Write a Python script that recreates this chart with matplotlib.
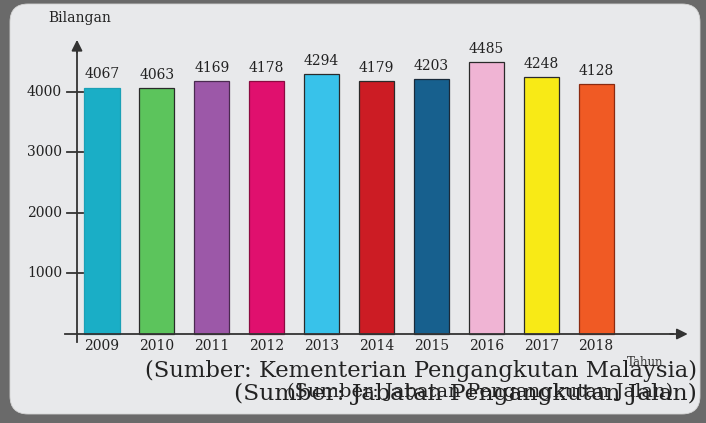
import matplotlib.pyplot as plt
from matplotlib.patches import FancyBboxPatch

# data
years = ['2009', '2010', '2011', '2012', '2013', '2014', '2015', '2016', '2017', '2018']
values = [4067, 4063, 4169, 4178, 4294, 4179, 4203, 4485, 4248, 4128]
colors = ['#1aaec6', '#5cc45c', '#9c58a8', '#e0106e', '#38c2ea',
          '#cc1c24', '#17608e', '#f0b4d4', '#f8ea16', '#f05a24']
edges = ['#1aa0b6', '#2a2a2a', '#4a2a50', '#8a0a40', '#2a2a2a',
         '#2a2a2a', '#1a2a3a', '#2a2a2a', '#2a2a2a', '#8a2a10']
yticks = [1000, 2000, 3000, 4000]

W, H = 706, 423
fig = plt.figure(figsize=(W / 100, H / 100), dpi=100)
fig.patch.set_facecolor('#6a6a6a')
plt.rcParams['font.family'] = 'DejaVu Serif'

# background panel
bg = fig.add_axes([0, 0, 1, 1])
bg.set_xlim(0, W)
bg.set_ylim(H, 0)
bg.axis('off')
panel = FancyBboxPatch((10, 4), 690, 410, boxstyle='round,pad=0,rounding_size=18',
                       facecolor='#e8e9eb', edgecolor='#d4d4d4', lw=0.6)
bg.add_patch(panel)

# chart axes: pixel box mapped onto data
px0, px1, py_top, py_bot = 60, 700, 30, 345
ax = fig.add_axes([px0 / W, 1 - py_bot / H, (px1 - px0) / W, (py_bot - py_top) / H])
ax.patch.set_alpha(0)
step = 54.9
unit = 60.6 / 1000
ax.set_xlim((px0 - 102) / step, (px1 - 102) / step)
ax.set_ylim(-(py_bot - 334) / unit, (334 - py_top) / unit)
ax.axis('off')

xs = list(range(len(years)))
ax.bar(xs, values, width=0.64, color=colors, edgecolor=edges, linewidth=0.9, zorder=2)

for x, v in zip(xs, values):
    ax.text(x, v + 100, str(v), ha='center', va='bottom', fontsize=10, color='#222')
    ax.text(x, -90, years[x], ha='center', va='top', fontsize=10, color='#222')

axc = '#333333'
yax_x = (77 - 102) / step
ax.plot([yax_x, yax_x], [-130, 4700], color=axc, lw=1.3, zorder=3)
ax.annotate('', xy=(yax_x, 4900), xytext=(yax_x, 4600),
            arrowprops=dict(arrowstyle='-|>', color=axc, lw=1.3, mutation_scale=16))
ax.plot([(65 - 102) / step, 10.4], [0, 0], color=axc, lw=1.3, zorder=3)
ax.annotate('', xy=(10.72, 0), xytext=(10.3, 0),
            arrowprops=dict(arrowstyle='-|>', color=axc, lw=1.3, mutation_scale=16))

for t in yticks:
    ax.plot([yax_x - 10 / step, yax_x + 6 / step], [t, t], color=axc, lw=1.3, zorder=3)
    ax.text(yax_x - 15 / step, t, str(t), ha='right', va='center', fontsize=10, color='#222')

# labels and sources in pixel coords
bg.text(80, 18, 'Bilangan', ha='center', va='center', fontsize=10, color='#222')
bg.text(645, 362, 'Tahun', ha='center', va='center', fontsize=8.5, color='#333')
bg.text(697, 371, '(Sumber: Kementerian Pengangkutan Malaysia)', ha='right', va='center',
        fontsize=16.3, color='#222')
bg.text(697, 394, '(Sumber: Jabatan Pengangkutan Jalan)', ha='right', va='center',
        fontsize=16.9, color='#222')
bg.text(287, 392, '(Sumber: Jabatan Pengangkutan Jalan)', ha='left', va='center',
        fontsize=14, color='#222')

fig.savefig('out.png', dpi=100, facecolor=fig.get_facecolor())
